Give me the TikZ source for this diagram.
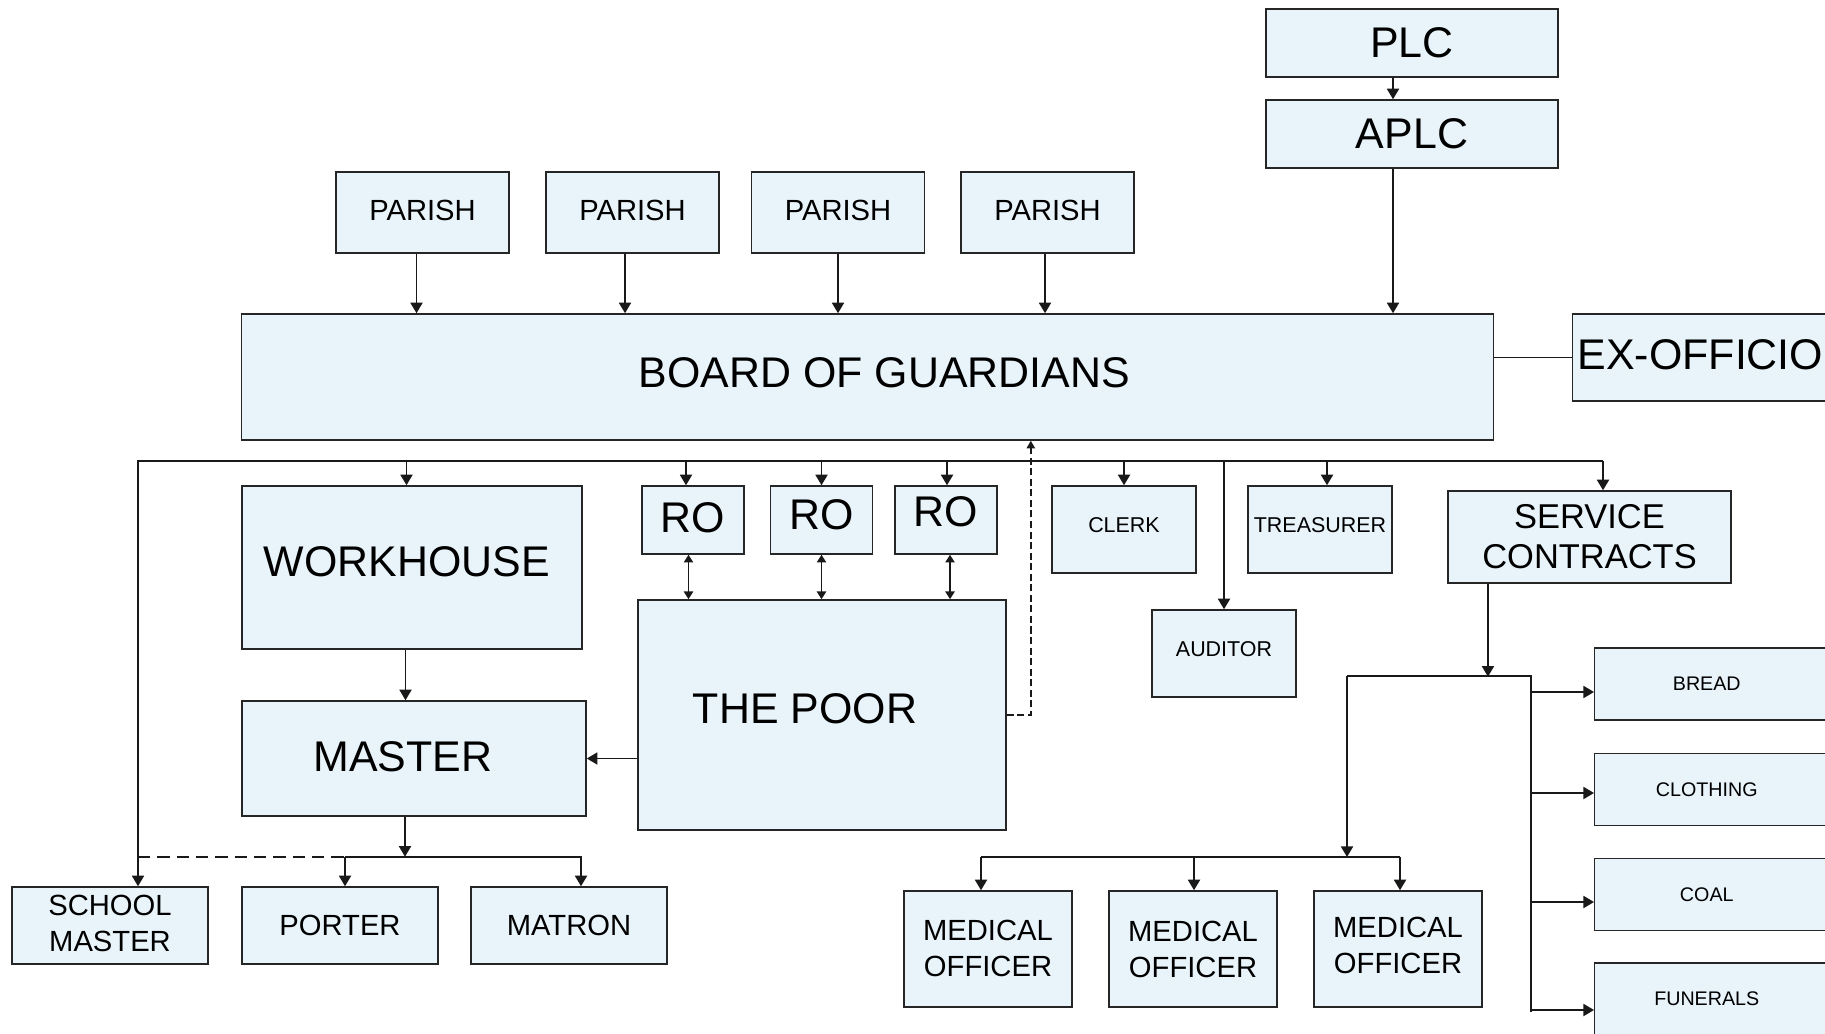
\documentclass[tikz,border=0pt]{standalone}
\usepackage{fontspec}
\setmainfont{Liberation Sans}
\usetikzlibrary{arrows.meta,positioning,calc}
\definecolor{boxfill}{RGB}{232,243,250}

\begin{document}
\begin{tikzpicture}[
    x=0.01cm, y=-0.01cm,
    ubox/.style={draw=black!85,fill=boxfill,line width=0.4pt,inner sep=0pt,align=center},
    bigbox/.style={ubox,font=\fontsize{12.2}{14}\selectfont},
    scbox/.style={ubox,font=\fontsize{9.8}{11.4}\selectfont},
    midbox/.style={ubox,font=\fontsize{8.3}{10.3}\selectfont},
    smallbox/.style={ubox,font=\fontsize{6.1}{7}\selectfont},
    tinybox/.style={ubox,font=\fontsize{5.6}{6.5}\selectfont},
    lift/.style={text depth=#1},
    link/.style={draw=black!90,line width=0.55pt},
    arr/.style={link,-{Triangle[length=3pt,width=3.4pt]}},
    twoway/.style={link,{Triangle[length=2.2pt,width=2.6pt]}-{Triangle[length=2.2pt,width=2.6pt]}},
    dashlink/.style={link,dash pattern=on 3.5pt off 2pt},
    dasharr/.style={draw=black!90,line width=0.45pt,dash pattern=on 2pt off 1pt,-{Triangle[length=2.2pt,width=2.4pt]}},
]
    \useasboundingbox (0,0) rectangle (1825,1034);
    \clip (0,0) rectangle (1825,1034);

    % top of the chart
    \node[bigbox,minimum width=2.92cm,minimum height=0.68cm] (plc) at (1412,43) {PLC};
    \node[bigbox,minimum width=2.92cm,minimum height=0.68cm] (aplc) at (1412,134) {APLC};
    \foreach \i/\x in {1/422.5,2/632.5,3/838,4/1047.5}
        \node[midbox,lift=0.04cm,minimum width=1.73cm,minimum height=0.81cm] (parish\i) at (\x,212.5) {PARISH};
    \node[bigbox,lift=0.09cm,minimum width=12.51cm,minimum height=1.26cm] (board) at (867.5,377) {\hspace*{0.34cm}BOARD OF GUARDIANS};
    \node[bigbox,lift=0.05cm,anchor=west,minimum height=0.87cm,inner xsep=0.05cm] (exofficio) at (1572,357.5) {EX-OFFICIO};

    % officers under the board
    \node[bigbox,lift=0.12cm,minimum width=3.40cm,minimum height=1.63cm] (workhouse) at (412,567.5) {WORKHOUSE\hspace*{0.1cm}};
    \foreach \i/\x/\d in {1/693/0.04,2/821.5/0.1,3/946/0.16}
        \node[bigbox,lift=\d cm,minimum width=1.02cm,minimum height=0.68cm] (ro\i) at (\x,520) {RO};
    \node[smallbox,lift=0.09cm,minimum width=1.44cm,minimum height=0.87cm] (clerk) at (1124,529.5) {CLERK};
    \node[smallbox,lift=0.09cm,minimum width=1.44cm,minimum height=0.87cm] (treasurer) at (1320,529.5) {TREASURER};
    \node[smallbox,lift=0.08cm,minimum width=1.44cm,minimum height=0.87cm] (auditor) at (1224,653.5) {AUDITOR};
    \node[scbox,minimum width=2.83cm,minimum height=0.92cm] (service) at (1589.5,537) {SERVICE\\CONTRACTS};
    \node[bigbox,lift=0.12cm,minimum width=3.68cm,minimum height=2.30cm] (poor) at (822,715) {THE POOR\hspace*{0.34cm}};
    \node[bigbox,lift=0.04cm,minimum width=3.44cm,minimum height=1.15cm] (master) at (414,758.5) {MASTER\hspace*{0.22cm}};

    % bottom row
    \node[midbox,lift=0.05cm,minimum width=1.96cm,minimum height=0.77cm] (school) at (110,925.5) {SCHOOL\\MASTER};
    \node[midbox,minimum width=1.96cm,minimum height=0.77cm] (porter) at (340,925.5) {PORTER};
    \node[midbox,minimum width=1.96cm,minimum height=0.77cm] (matron) at (569,925.5) {MATRON};
    \foreach \i/\x/\d in {1/988/0.02,2/1193/-0.06,3/1398/0.08}
        \node[midbox,lift=\d cm,minimum width=1.68cm,minimum height=1.16cm] (mo\i) at (\x,949) {MEDICAL\\OFFICER};
    \foreach \n/\t/\y in {bread/BREAD/684,clothing/CLOTHING/789.5,coal/COAL/894.5,funerals/FUNERALS/999}
        \node[tinybox,anchor=west,minimum width=2.4cm,minimum height=0.72cm] (\n) at (1594,\y) {\t\hspace*{0.16cm}};

    % PLC, parishes -> board
    \draw[arr] ([xshift=-0.19cm]plc.south) -- ([xshift=-0.19cm]aplc.north);
    \draw[arr] ([xshift=-0.19cm]aplc.south) -- ([xshift=-0.19cm]aplc.south |- board.north);
    \foreach \i/\s in {1/-0.06,2/-0.075,3/0,4/-0.025}
        \draw[arr] ([xshift=\s cm]parish\i.south) -- ([xshift=\s cm]parish\i.south |- board.north);
    \draw[link] (board.east |- exofficio.west) -- (exofficio.west);

    % bus under the board
    \coordinate (busL) at (138,461);
    \coordinate (busR) at (1603,461);
    \draw[arr] (busR) -- (busL) -- (busL |- school.north);
    \foreach \n/\s in {workhouse/-0.055,ro1/-0.07,ro2/0,ro3/0.01,clerk/0,treasurer/0.07,auditor/0}{
        \coordinate (d) at ([xshift=\s cm]\n.north);
        \draw[arr] (busL -| d) -- (d);
    }
    \draw[arr] (busR) -- (busR |- service.north);

    % relieving officers and the poor
    \foreach \i/\s in {1/-0.045,2/0,3/0.04}
        \draw[twoway] ([xshift=\s cm]ro\i.south) -- ([xshift=\s cm]ro\i.south |- poor.north);
    \draw[dasharr] (poor.east) -- ++(24,0) coordinate (back) -- (back |- board.south);

    % workhouse staff
    \draw[arr] ([xshift=-0.065cm]workhouse.south) -- ([xshift=-0.065cm]workhouse.south |- master.north);
    \draw[arr] (poor.west |- master.east) -- (master.east);
    \draw[arr] ([xshift=-0.09cm]master.south) -- ++(0,40) coordinate (staff);
    \coordinate (mt) at ([xshift=0.12cm]matron.north);
    \coordinate (pt) at ([xshift=0.05cm]porter.north);
    \draw[arr] (pt |- staff) -- (mt |- staff) -- (mt);
    \draw[arr] (pt |- staff) -- (pt);
    \draw[dashlink] (busL |- staff) -- (pt |- staff);

    % service contracts
    \draw[arr] ([xshift=-1.015cm]service.south) -- ++(0,93) coordinate (sc);
    \coordinate (mol) at (1347,676);
    \coordinate (supR) at (1531,676);
    \coordinate (mobus) at (1347,857);
    \draw[arr] (mol) -- (mobus);
    \draw[link] (mol) -- (supR) -- ++(0,336);
    \foreach \i/\s in {1/-0.07,2/0.01,3/0.02}{
        \coordinate (m) at ([xshift=\s cm]mo\i.north);
        \draw[arr] (m |- mobus) -- (m);
    }
    \draw[link] ([xshift=-0.07cm]mo1.north |- mobus) -- ([xshift=0.02cm]mo3.north |- mobus);
    \foreach \n/\d in {bread/8,clothing/3.5,coal/7.5,funerals/11}{
        \coordinate (t) at ($(\n.west)+(0,\d)$);
        \draw[arr] (supR |- t) -- (t);
    }
\end{tikzpicture}
\end{document}
